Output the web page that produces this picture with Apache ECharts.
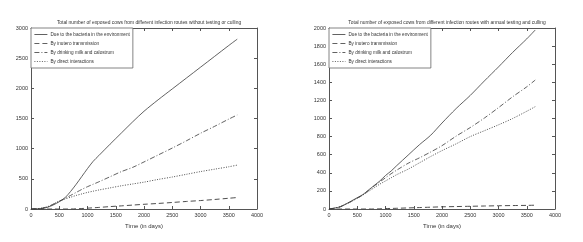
<!DOCTYPE html>
<html><head><meta charset="utf-8">
<script src="https://cdn.jsdelivr.net/npm/echarts@6/dist/echarts.min.js"></script>
<style>html,body{margin:0;padding:0;background:#fff}#c{width:583px;height:242px}</style>
</head><body><div id="c"></div>
<script>
var days = [0,100,200,300,400,500,600,700,800,900,1000,1100,1200,1400,1600,1800,2000,2250,2500,2750,3000,3250,3500,3650];
var seriesNames = ['Due to the bacteria in the environment','By inutero transmission','By drinking milk and calostrum','By direct interactions'];
var titles = ['Total number of exposed cows from different infection routes without testing or culling','Total number of exposed cows from different infection routes with annual testing and culling'];
var xLabel = 'Time (in days)';

// Left chart: without testing or culling
var leftEnv    = [0,2,8,30,70,120,185,290,410,540,670,790,885,1075,1260,1445,1620,1810,1990,2170,2350,2530,2710,2815];
var leftUtero  = [0,0,0,0,0,0,0,0,3,8,14,20,26,40,52,65,78,92,108,125,140,158,178,190];
var leftMilk   = [0,5,15,40,80,130,175,225,275,325,370,410,450,535,620,690,780,895,1010,1130,1255,1370,1490,1558];
var leftDirect = [0,5,15,40,85,130,165,195,225,250,275,295,315,350,385,415,445,490,530,575,620,660,700,727];

// Right chart: with annual testing and culling
var rightEnv    = [0,10,25,55,90,125,160,210,260,310,370,420,480,595,710,815,950,1110,1255,1415,1570,1730,1880,1978];
var rightUtero  = [0,0,0,0,0,0,0,0,0,2,5,6,8,12,16,20,24,27,30,33,36,38,40,42];
var rightMilk   = [0,10,25,55,85,120,155,205,255,300,345,390,430,505,565,630,700,805,900,1005,1120,1240,1350,1425];
var rightDirect = [0,10,25,55,85,120,155,195,235,275,310,345,380,440,510,580,645,720,800,865,930,1000,1080,1131];

var leftYTicks = {min:0,max:3000,interval:500};
var rightYTicks = {min:0,max:2000,interval:200};
var xTicks = {min:0,max:4000,interval:500};

function pairs(v){ return days.map(function(d,i){return [d,v[i]];}); }

var font = '"Liberation Sans Narrow","Liberation Sans",sans-serif';
var lineColor = '#3a3a3a';
var styles = [
  {type:'solid', width:0.8},
  {type:[5,3], width:0.9},
  {type:[5,2,1,2], width:0.8},
  {type:[1,1.5], width:0.9}
];

var grids = [
  {left:31, top:28, width:226, height:181},
  {left:329, top:28, width:226, height:181}
];

var axisLineStyle = {color:'#555', width:1};
function fmt(v){ return String(v); }
function xAxis(grid, pos, showLabel){
  return {type:'value', gridIndex:grid, position:pos, min:xTicks.min, max:xTicks.max, interval:xTicks.interval,
    axisLine:{show:true, onZero:false, lineStyle:axisLineStyle},
    axisTick:{show:true, inside:true, length:3, lineStyle:{color:'#555'}},
    axisLabel:{show:showLabel, fontSize:5.5, color:'#333', fontFamily:font, margin:3, formatter:fmt},
    splitLine:{show:false},
    name: showLabel ? xLabel : '', nameLocation:'middle', nameGap:14,
    nameTextStyle:{fontSize:6, color:'#333', fontFamily:font}};
}
function yAxis(grid, pos, showLabel, t){
  return {type:'value', gridIndex:grid, position:pos, min:t.min, max:t.max, interval:t.interval,
    axisLine:{show:true, onZero:false, lineStyle:axisLineStyle},
    axisTick:{show:true, inside:true, length:3, lineStyle:{color:'#555'}},
    axisLabel:{show:showLabel, fontSize:5.5, color:'#333', fontFamily:font, margin:3, formatter:fmt},
    splitLine:{show:false}};
}

var data = [[leftEnv,leftUtero,leftMilk,leftDirect],[rightEnv,rightUtero,rightMilk,rightDirect]];
var series = [];
for (var g=0; g<2; g++){
  for (var s=0; s<4; s++){
    series.push({type:'line', name:seriesNames[s], xAxisIndex:g*2, yAxisIndex:g*2,
      data:pairs(data[g][s]), showSymbol:false, symbol:'none', smooth:0.3,
      lineStyle:{color:lineColor, width:styles[s].width, type:styles[s].type},
      itemStyle:{color:lineColor}, silent:true});
  }
}

function legend(left){
  return {orient:'vertical', left:left, top:28, padding:[4,3,4,3], itemGap:4,
    itemWidth:13, itemHeight:5, borderColor:'#666', borderWidth:0.8, backgroundColor:'#fff',
    itemStyle:{opacity:0}, lineStyle:{width:0.8},
    textStyle:{fontSize:4.7, color:'#333', fontFamily:font, padding:[0,0,0,-2]},
    data:seriesNames.slice(), selectedMode:false};
}

var chart = echarts.init(document.getElementById('c'), null, {renderer:'canvas'});
chart.setOption({
  animation:false,
  backgroundColor:'#fff',
  title:[
    {text:titles[0], left:144, top:15, textAlign:'center', textStyle:{fontSize:4.9, fontWeight:'normal', color:'#333', fontFamily:font}},
    {text:titles[1], left:442, top:15, textAlign:'center', textStyle:{fontSize:4.9, fontWeight:'normal', color:'#333', fontFamily:font}}
  ],
  legend:[legend(31), legend(329)],
  grid:grids,
  xAxis:[xAxis(0,'bottom',true), xAxis(0,'top',false), xAxis(1,'bottom',true), xAxis(1,'top',false)],
  yAxis:[yAxis(0,'left',true,leftYTicks), yAxis(0,'right',false,leftYTicks), yAxis(1,'left',true,rightYTicks), yAxis(1,'right',false,rightYTicks)],
  series:series
});
</script></body></html>
